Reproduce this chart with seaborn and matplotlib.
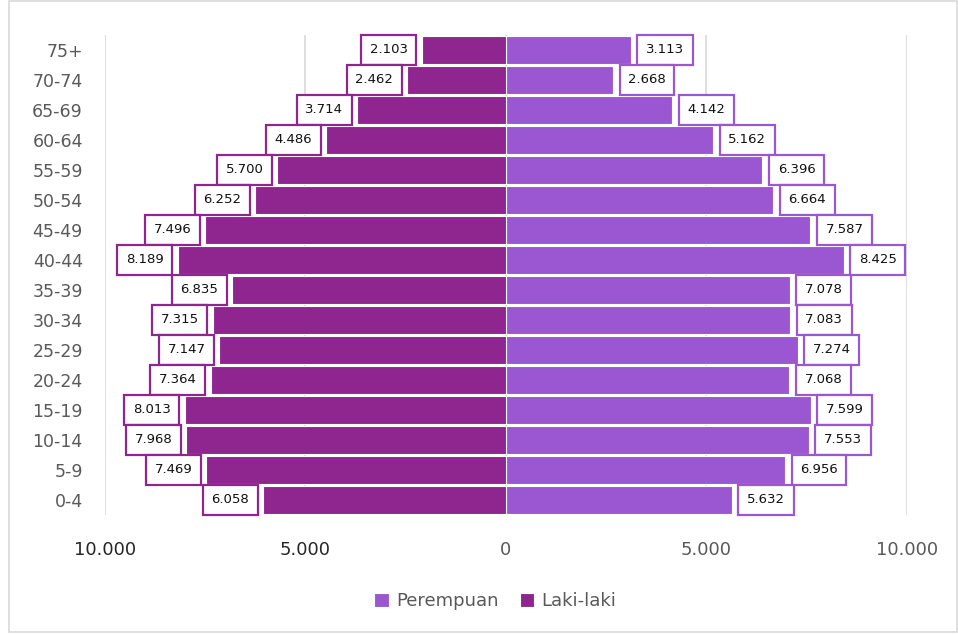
import pandas as pd
import matplotlib.pyplot as plt
import seaborn as sns
from matplotlib.patches import Rectangle

# data piramida penduduk
kelompok_umur = ["75+", "70-74", "65-69", "60-64", "55-59", "50-54", "45-49", "40-44",
                 "35-39", "30-34", "25-29", "20-24", "15-19", "10-14", "5-9", "0-4"]
laki_laki = [2103, 2462, 3714, 4486, 5700, 6252, 7496, 8189,
             6835, 7315, 7147, 7364, 8013, 7968, 7469, 6058]
perempuan = [3113, 2668, 4142, 5162, 6396, 6664, 7587, 8425,
             7078, 7083, 7274, 7068, 7599, 7553, 6956, 5632]

x_ticks = [-10000, -5000, 0, 5000, 10000]
x_labels = ["10.000", "5.000", "0", "5.000", "10.000"]

warna_laki = "#8F2690"
warna_perempuan = "#9A57D1"

df = pd.DataFrame({"umur": kelompok_umur,
                   "laki": [-v for v in laki_laki],
                   "perempuan": perempuan})

sns.set_style("white")
plt.rcParams["font.family"] = ["DejaVu Sans"]

fig = plt.figure(figsize=(9.58, 6.35), dpi=100)
ax = fig.add_axes([0.1096, 0.189, 0.837, 0.7559])

sns.barplot(x="perempuan", y="umur", data=df, orient="y", color=warna_perempuan, saturation=1,
            width=0.94, edgecolor="white", linewidth=0.8, label="Perempuan", ax=ax, zorder=2)
sns.barplot(x="laki", y="umur", data=df, orient="y", color=warna_laki, saturation=1,
            width=0.94, edgecolor="white", linewidth=0.8, label="Laki-laki", ax=ax, zorder=2)

# label nilai dalam kotak
def fmt(v):
    return f"{v:,}".replace(",", ".")

for i, (m, f) in enumerate(zip(laki_laki, perempuan)):
    ax.annotate(fmt(m), xy=(-m, i), xytext=(-10, 0), textcoords="offset points",
                ha="right", va="center", fontsize=9.5, color="#111111", zorder=5,
                bbox=dict(boxstyle="square,pad=0.65", fc="white", ec=warna_laki, lw=1.6))
    ax.annotate(fmt(f), xy=(f, i), xytext=(11, 0), textcoords="offset points",
                ha="left", va="center", fontsize=9.5, color="#111111", zorder=5,
                bbox=dict(boxstyle="square,pad=0.65", fc="white", ec=warna_perempuan, lw=1.6))

ax.set_xlim(-10000, 10000)
ax.set_ylim(15.5, -0.5)
ax.set_xticks(x_ticks)
ax.set_xticklabels(x_labels, fontsize=13)
for lbl, c in zip(ax.get_xticklabels(), ["#262626", "#262626", "#595959", "#595959", "#595959"]):
    lbl.set_color(c)
ax.tick_params(axis="x", length=0, pad=19)
ax.tick_params(axis="y", length=0, pad=16, labelsize=12.5, labelcolor="#595959")
ax.set_xlabel("")
ax.set_ylabel("")
ax.grid(axis="x", color="#D9D9D9", linewidth=1.2, zorder=0)
ax.set_axisbelow(True)
for s in ax.spines.values():
    s.set_visible(False)

leg = ax.legend(loc="center", bbox_to_anchor=(0.517, 0.053), bbox_transform=fig.transFigure,
                ncol=2, frameon=False, fontsize=13, handlelength=0.8, handleheight=0.8,
                handletextpad=0.4, columnspacing=1.2)
for t in leg.get_texts():
    t.set_color("#595959")

# bingkai luar
fig.patches.append(Rectangle((0.009, 0.004), 0.99, 0.995, transform=fig.transFigure,
                             fill=False, ec="#D9D9D9", lw=1.2))

fig.savefig("out.png", dpi=100)
